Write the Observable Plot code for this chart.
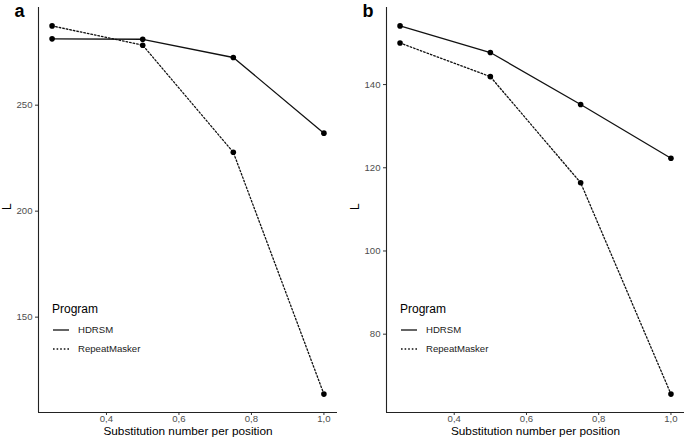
<!DOCTYPE html>
<html>
<head>
<meta charset="utf-8">
<script src="https://cdn.jsdelivr.net/npm/d3@7"></script>
<script src="https://cdn.jsdelivr.net/npm/@observablehq/plot@0.6"></script>
<style>
  html, body { margin: 0; padding: 0; background: #fff; }
  #wrap { display: flex; width: 685px; height: 441px; overflow: hidden; }
  #wrap svg { display: block; overflow: visible; }
</style>
</head>
<body>
<div id="wrap"></div>
<script>
// ---- data ----
const substitution = [0.25, 0.5, 0.75, 1.0];
const programs = ["HDRSM", "RepeatMasker"];
const aHDRSM = [281.3, 281.1, 272.5, 236.8];
const aRepeatMasker = [287.4, 278.3, 227.8, 113.7];
const bHDRSM = [154.1, 147.7, 135.2, 122.3];
const bRepeatMasker = [150.0, 141.9, 116.4, 65.6];
const xTicks = [0.4, 0.6, 0.8, 1.0];
const aYTicks = [150, 200, 250];
const bYTicks = [80, 100, 120, 140];
const xLabel = "Substitution number per position";
const yLabel = "L";
const legendTitle = "Program";

const FONT = "'Liberation Sans', Arial, Helvetica, sans-serif";
const dashes = {HDRSM: null, RepeatMasker: "1.6,2"};

function expand(vals, f = 0.05) {
  const lo = d3.min(vals), hi = d3.max(vals), r = hi - lo;
  return [lo - r * f, hi + r * f];
}

function panel(tag, hd, rm, yTicks, width, marginRight) {
  const rows = [];
  substitution.forEach((s, i) => {
    rows.push({x: s, y: hd[i], program: programs[0]});
    rows.push({x: s, y: rm[i], program: programs[1]});
  });
  const xDom = expand(substitution);
  const yDom = expand(hd.concat(rm));
  const marginLeft = 38, marginTop = 7, marginBottom = 29, height = 441;
  const fmt = d => d.toFixed(1).replace(".", ",");
  const svg = Plot.plot({
    width, height, marginLeft, marginRight, marginTop, marginBottom,
    style: {fontFamily: FONT, background: "#fff", overflow: "visible"},
    x: {domain: xDom},
    y: {domain: yDom},
    marks: [
      Plot.axisX({ticks: xTicks, tickFormat: fmt, tickSize: 3, tickPadding: 0, label: null,
                  stroke: "#333", fill: "#4d4d4d", fontSize: 9.6}),
      Plot.axisY({ticks: yTicks, tickSize: 3, tickPadding: 3, label: null,
                  stroke: "#333", fill: "#4d4d4d", fontSize: 9.6}),
      Plot.ruleX([xDom[0]], {stroke: "#222", strokeWidth: 1.1}),
      Plot.ruleY([yDom[0]], {stroke: "#222", strokeWidth: 1.1}),
      Plot.line(rows.filter(d => d.program === programs[0]), {x: "x", y: "y", stroke: "#111", strokeWidth: 1.3}),
      Plot.line(rows.filter(d => d.program === programs[1]), {x: "x", y: "y", stroke: "#111", strokeWidth: 1.3, strokeDasharray: dashes.RepeatMasker}),
      Plot.dot(rows, {x: "x", y: "y", r: 2.8, fill: "#000", stroke: null}),
      Plot.text([xLabel], {frameAnchor: "bottom", dy: 22.5, fontSize: 11.8, fill: "#000"}),
      Plot.text([yLabel], {frameAnchor: "left", dx: -31, rotate: -90, fontSize: 12, fill: "#000"}),
      Plot.text([tag], {frameAnchor: "top-left", dx: -24, dy: -3, fontSize: 18, fontWeight: "bold", fill: "#000"})
    ]
  });
  // legend (ggplot-style, inside panel bottom-left)
  const g = d3.select(svg).append("g").attr("font-family", FONT).attr("text-anchor", "start");
  const lx = marginLeft + 14, ty = 309;
  g.append("text").attr("x", lx).attr("y", ty).attr("dy", "0.35em")
    .attr("font-size", 12).attr("fill", "#000").text(legendTitle);
  programs.forEach((p, i) => {
    const y = 330 + i * 19;
    g.append("line").attr("x1", lx + 1).attr("x2", lx + 17).attr("y1", y).attr("y2", y)
      .attr("stroke", "#111").attr("stroke-width", 1.3)
      .attr("stroke-dasharray", dashes[p]);
    g.append("text").attr("x", lx + 26).attr("y", y).attr("dy", "0.35em")
      .attr("font-size", 9.6).attr("fill", "#222").text(p);
  });
  return svg;
}

const wrap = document.getElementById("wrap");
wrap.appendChild(panel("a", aHDRSM, aRepeatMasker, aYTicks, 348, 11));
wrap.appendChild(panel("b", bHDRSM, bRepeatMasker, bYTicks, 337, 1));
</script>
</body>
</html>
